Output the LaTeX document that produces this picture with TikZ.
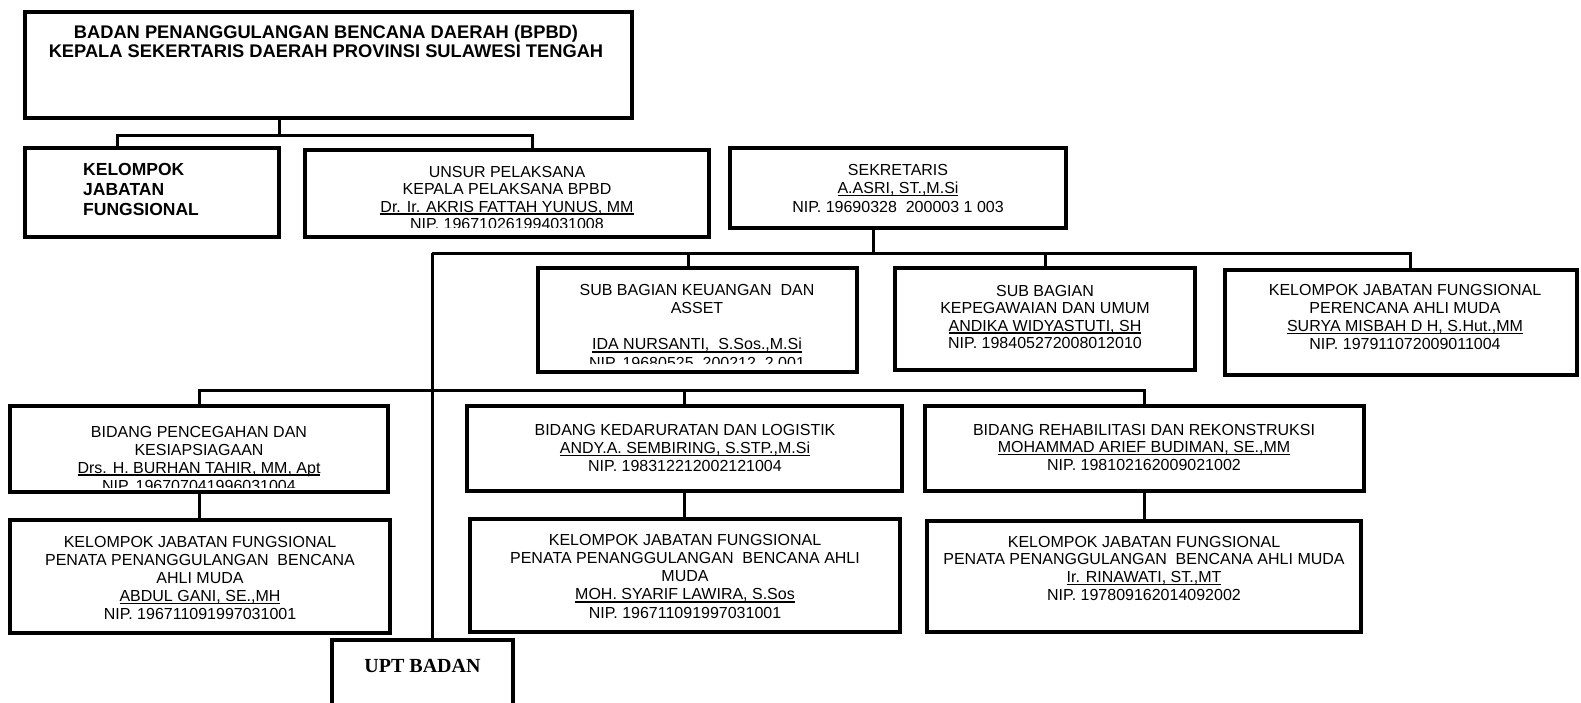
\documentclass[tikz,border=0pt]{standalone}
\usepackage{fontspec}
\setmainfont{Liberation Sans}
\newfontfamily\uptfont{Liberation Serif}

\newcommand{\boxlines}[1]{\begin{tabular}[t]{@{}c@{}}#1\end{tabular}}
\newcommand{\nameline}[1]{\setbox0\hbox{#1}\rlap{\rule[-2.6pt]{\wd0}{1.3pt}}\box0}

\begin{document}
\begin{tikzpicture}[x=1pt, y=-1pt,
    box/.style={draw, line width=4pt, inner sep=0pt},
    link/.style={line width=3pt},
    txt/.style={anchor=base, inner sep=0pt, font=\fontsize{16}{#1}\selectfont},
    txt/.default=18]

    \useasboundingbox (0,0) rectangle (1581,702);

    \node[box, minimum width=607pt, minimum height=106pt] (kepala) at (328.5,65) {};
    \node[box, minimum width=254pt, minimum height=89pt] (fungsional) at (152,192.5) {};
    \node[box, minimum width=404pt, minimum height=87pt] (unsur) at (507,193.5) {};
    \node[box, minimum width=336pt, minimum height=80pt] (sekretaris) at (898,188) {};
    \node[box, minimum width=319pt, minimum height=104pt] (keuangan) at (697.5,320) {};
    \node[box, minimum width=300pt, minimum height=102pt] (kepegawaian) at (1045,319) {};
    \node[box, minimum width=352pt, minimum height=105pt] (perencana) at (1401,322.5) {};
    \node[box, minimum width=378pt, minimum height=86pt] (pencegahan) at (199,449) {};
    \node[box, minimum width=380pt, minimum height=113pt] (penataA) at (200,576.5) {};
    \node[box, minimum width=435pt, minimum height=85pt] (kedaruratan) at (684.5,448.5) {};
    \node[box, minimum width=430pt, minimum height=113pt] (penataB) at (685,575.5) {};
    \node[box, minimum width=439pt, minimum height=85pt] (rehabilitasi) at (1144.5,448.5) {};
    \node[box, minimum width=434pt, minimum height=111pt] (penataC) at (1144,576.5) {};
    \node[box, minimum width=181pt, minimum height=80pt] (upt) at (422.5,680) {};

    \node[txt, font=\fontsize{18.3}{19}\selectfont\bfseries] (kepalatext) at (326,38)
        {\boxlines{BADAN PENANGGULANGAN BENCANA DAERAH (BPBD)\\KEPALA SEKERTARIS DAERAH PROVINSI SULAWESI TENGAH}};
    \node[anchor=base west, inner sep=0pt, font=\fontsize{17.5}{20}\selectfont\bfseries] (fungsionaltext) at (83,175)
        {\begin{tabular}[t]{@{}l@{}}KELOMPOK\\JABATAN\\FUNGSIONAL\end{tabular}};
    \begin{scope}
        \clip (unsur.north west) rectangle ([yshift=12pt]unsur.south east);
        \node[txt=17.5] (unsurtext) at (507,177)
            {\boxlines{UNSUR PELAKSANA\\KEPALA PELAKSANA BPBD\\\nameline{Dr. Ir. AKRIS FATTAH YUNUS, MM}\\NIP. 196710261994031008}};
    \end{scope}
    \node[txt=18.5] (sekretaristext) at (898,175)
        {\boxlines{SEKRETARIS\\\nameline{A.ASRI, ST.,M.Si}\\NIP. 19690328\ \ 200003 1 003}};
    \begin{scope}
        \clip (keuangan.north west) rectangle ([yshift=11pt]keuangan.south east);
        \node[txt=18.3] (keuangantext) at (697,295)
            {\boxlines{SUB BAGIAN KEUANGAN\ \ DAN\\ASSET\\[18.3pt]\nameline{IDA NURSANTI,\ \ S.Sos.,M.Si}\\NIP. 19680525\ \ 200212\ \ 2 001}};
    \end{scope}
    \node[txt=17.5] (kepegawaiantext) at (1045,296)
        {\boxlines{SUB BAGIAN\\KEPEGAWAIAN DAN UMUM\\\nameline{ANDIKA WIDYASTUTI,\ SH}\\NIP. 198405272008012010}};
    \node[txt=18.3] (perencanatext) at (1405,295)
        {\boxlines{KELOMPOK JABATAN FUNGSIONAL\\PERENCANA AHLI MUDA\\\nameline{SURYA MISBAH D H, S.Hut.,MM}\\NIP. 197911072009011004}};
    \begin{scope}
        \clip (pencegahan.north west) rectangle ([yshift=6.5pt]pencegahan.south east);
        \node[txt=18] (pencegahantext) at (199,437)
            {\boxlines{BIDANG PENCEGAHAN DAN\\KESIAPSIAGAAN\\\nameline{Drs. H. BURHAN TAHIR, MM, Apt}\\NIP. 196707041996031004}};
    \end{scope}
    \node[txt=18.2] (penataAtext) at (200,547)
        {\boxlines{KELOMPOK JABATAN FUNGSIONAL\\PENATA PENANGGULANGAN\ \ BENCANA\\AHLI MUDA\\\nameline{ABDUL GANI, SE.,MH}\\NIP. 196711091997031001}};
    \node[txt=18.3] (kedaruratantext) at (685,435)
        {\boxlines{BIDANG KEDARURATAN DAN LOGISTIK\\\nameline{ANDY.A. SEMBIRING, S.STP.,M.Si}\\NIP. 198312212002121004}};
    \node[txt=18.3] (penataBtext) at (685,545)
        {\boxlines{KELOMPOK JABATAN FUNGSIONAL\\PENATA PENANGGULANGAN\ \ BENCANA AHLI\\MUDA\\\nameline{MOH. SYARIF LAWIRA, S.Sos}\\NIP. 196711091997031001}};
    \node[txt=17.5] (rehabilitasitext) at (1144,435)
        {\boxlines{BIDANG REHABILITASI DAN REKONSTRUKSI\\\nameline{MOHAMMAD ARIEF BUDIMAN,\ SE.,MM}\\NIP. 198102162009021002}};
    \node[txt=17.7] (penataCtext) at (1144,547)
        {\boxlines{KELOMPOK JABATAN FUNGSIONAL\\PENATA PENANGGULANGAN\ \ BENCANA AHLI MUDA\\\nameline{Ir. RINAWATI, ST.,MT}\\NIP. 197809162014092002}};
    \node[anchor=base, inner sep=0pt, font=\uptfont\bfseries\fontsize{20}{24}\selectfont] (upttext) at (422.5,672) {UPT BADAN};

    \coordinate (topbar) at (279,135);
    \coordinate (sekbar) at (432,253);
    \coordinate (bidbar) at (432,390);

    \draw[link] (kepala.south -| topbar) -- (topbar);
    \draw[link] ([xshift=-35pt]fungsional.north) |- (topbar) -| ([xshift=25pt]unsur.north);
    \draw[link] ([xshift=-25pt]sekretaris.south) |- (sekbar);
    \draw[link] (sekbar) -| ([xshift=9pt]perencana.north);
    \draw[link] ([xshift=-9.5pt]keuangan.north) -- ([xshift=-9.5pt]keuangan.north |- sekbar);
    \draw[link] (kepegawaian.north) -- (kepegawaian.north |- sekbar);
    \draw[link] (sekbar) -- (sekbar |- upt.north);
    \draw[link] (pencegahan.north) |- (bidbar) -| (rehabilitasi.north);
    \draw[link] (kedaruratan.north) -- (kedaruratan.north |- bidbar);
    \draw[link] (pencegahan.south) -- (pencegahan.south |- penataA.north);
    \draw[link] (kedaruratan.south) -- (kedaruratan.south |- penataB.north);
    \draw[link] (rehabilitasi.south) -- (rehabilitasi.south |- penataC.north);

\end{tikzpicture}
\end{document}
